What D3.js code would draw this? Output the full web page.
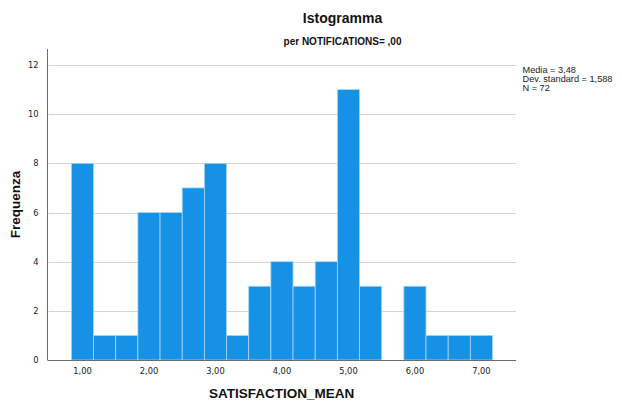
<!DOCTYPE html>
<html><head><meta charset="utf-8">
<script src="https://cdn.jsdelivr.net/npm/d3@7"></script>
<style>body{margin:0;background:#fff}svg{display:block}text{font-family:"DejaVu Sans",sans-serif}.ls{font-family:"Liberation Sans",Arial,sans-serif}</style>
</head><body><svg id="c" width="622" height="401"></svg>
<script>
const binCenters = [1.0,1.3333,1.6667,2.0,2.3333,2.6667,3.0,3.3333,3.6667,4.0,4.3333,4.6667,5.0,5.3333,5.6667,6.0,6.3333,6.6667,7.0];
const counts     = [8,1,1,6,6,7,8,1,3,4,3,4,11,3,0,3,1,1,1];
const binWidth = 1/3;
const xTicks = [1,2,3,4,5,6,7];
const yTicks = [0,2,4,6,8,10,12];
const statsLines = ["Media = 3,48","Dev. standard = 1,588","N = 72"];
const title = "Istogramma", subtitle = "per NOTIFICATIONS= ,00";
const xTitle = "SATISFACTION_MEAN", yTitle = "Frequenza";

const svg = d3.select("#c");
const L=47.5, R=516, T=49, B=360;
const x = d3.scaleLinear().domain([0.474,7.52]).range([L,R]);
const y = d3.scaleLinear().domain([0,12]).range([B,65]);
const fmt = d => d.toFixed(2).replace(".",",");

// gridlines
svg.append("g").selectAll("line").data(yTicks.filter(d=>d>0)).join("line")
  .attr("x1",L+1).attr("x2",R).attr("y1",d=>Math.round(y(d))+0.5).attr("y2",d=>Math.round(y(d))+0.5)
  .attr("stroke","#d4d4d4").attr("stroke-width",1);

// bars
svg.append("g").selectAll("rect").data(binCenters.map((c,i)=>({c,v:counts[i]})).filter(d=>d.v>0)).join("rect")
  .attr("x",d=>x(d.c-binWidth/2)).attr("width",d=>x(d.c+binWidth/2)-x(d.c-binWidth/2))
  .attr("y",d=>y(d.v)).attr("height",d=>B-y(d.v))
  .attr("fill","#1591e6").attr("stroke","#a9d6f7").attr("stroke-width",0.8);

// axes lines
svg.append("line").attr("x1",L).attr("x2",L).attr("y1",T).attr("y2",B).attr("stroke","#6b6b6b");
svg.append("line").attr("x1",L).attr("x2",R).attr("y1",B+0.5).attr("y2",B+0.5).attr("stroke","#6b6b6b");

// y tick labels
svg.append("g").selectAll("text").data(yTicks).join("text")
  .attr("x",38.5).attr("y",d=>y(d)+3).attr("text-anchor","end")
  .attr("font-size",8.3).attr("fill","#222").text(d=>d);
// x tick labels
svg.append("g").selectAll("text").data(xTicks).join("text")
  .attr("x",d=>x(d)).attr("y",373.5).attr("text-anchor","middle")
  .attr("font-size",8.3).attr("fill","#222").text(fmt);

// titles
svg.append("text").attr("class","ls").attr("x",342.5).attr("y",23).attr("text-anchor","middle")
  .attr("font-size",14).attr("font-weight","bold").attr("fill","#111").text(title);
svg.append("text").attr("class","ls").attr("x",342.5).attr("y",45).attr("text-anchor","middle")
  .attr("font-size",10).attr("font-weight","bold").attr("fill","#111").text(subtitle);
svg.append("text").attr("class","ls").attr("x",(L+R)/2).attr("y",398).attr("text-anchor","middle")
  .attr("font-size",13.5).attr("font-weight","bold").attr("fill","#111").text(xTitle);
svg.append("text").attr("class","ls").attr("transform",`translate(20,${(T+B)/2}) rotate(-90)`).attr("text-anchor","middle")
  .attr("font-size",13.5).attr("font-weight","bold").attr("fill","#111").text(yTitle);

// stats
svg.append("g").selectAll("text").data(statsLines).join("text").attr("class","ls")
  .attr("x",522.5).attr("y",(d,i)=>73+i*9).attr("font-size",9.2).attr("fill","#222").text(d=>d);
</script></body></html>
